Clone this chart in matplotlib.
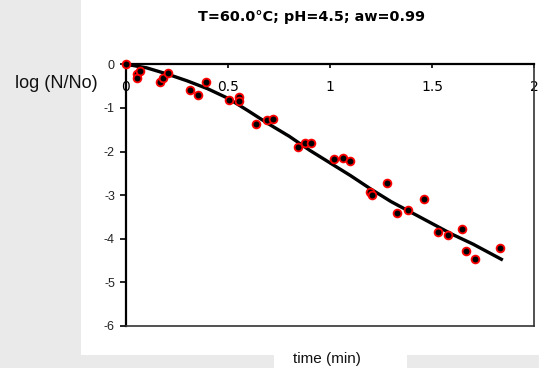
import matplotlib
matplotlib.use('Agg')
from matplotlib import pyplot as plt
from matplotlib.patches import Rectangle

plt.rcParams['axes.unicode_minus'] = False

# observed survivors
time_obs = [0, 0.052, 0.052, 0.071, 0.168, 0.181, 0.206, 0.316, 0.355, 0.392,
            0.503, 0.556, 0.556, 0.636, 0.692, 0.723, 0.841, 0.876, 0.909,
            1.022, 1.062, 1.096, 1.198, 1.208, 1.277, 1.329, 1.382, 1.461,
            1.528, 1.580, 1.648, 1.667, 1.713, 1.835]
logN_obs = [0, -0.23, -0.32, -0.15, -0.41, -0.32, -0.21, -0.60, -0.70, -0.41,
            -0.81, -0.75, -0.85, -1.38, -1.28, -1.25, -1.90, -1.81, -1.81,
            -2.18, -2.14, -2.22, -2.93, -2.99, -2.71, -3.42, -3.33, -3.08,
            -3.85, -3.92, -3.78, -4.27, -4.47, -4.22]

# fitted curve
time_fit = [0, 0.1, 0.2, 0.3, 0.4, 0.5, 0.6, 0.7, 0.8, 0.9, 1.0, 1.1, 1.2,
            1.3, 1.4, 1.5, 1.6, 1.7, 1.84]
logN_fit = [0, -0.08, -0.22, -0.38, -0.56, -0.78, -1.07, -1.37, -1.65, -1.97,
            -2.26, -2.55, -2.86, -3.15, -3.40, -3.65, -3.90, -4.12, -4.47]

x_ticks = [0, 0.5, 1, 1.5, 2]
x_labels = ['0', '0.5', '1', '1.5', '2']
y_ticks = [0, -1, -2, -3, -4, -5, -6]
y_labels = ['0', '-1', '-2', '-3', '-4', '-5', '-6']

W, H = 539, 368
fig = plt.figure(figsize=(W / 100, H / 100), dpi=100)
fig.patch.set_facecolor('white')

grey = '#eaeaea'
fig.patches.append(Rectangle((0, 0), 81.3 / W, 1, transform=fig.transFigure,
                             facecolor=grey, edgecolor='none', zorder=0))
fig.patches.append(Rectangle((0, 0), 274 / W, 13.3 / H, transform=fig.transFigure,
                             facecolor=grey, edgecolor='none', zorder=0))
fig.patches.append(Rectangle((407 / W, 0), 1 - 407 / W, 13.3 / H, transform=fig.transFigure,
                             facecolor=grey, edgecolor='none', zorder=0))

ax = fig.add_axes([126 / W, 42 / H, 408 / W, 261.7 / H])
ax.set_facecolor('white')

ax.plot(time_fit, logN_fit, color='black', linewidth=2.4, zorder=3)
ax.plot(time_obs, logN_obs, linestyle='none', marker='o', markersize=5.6,
        markerfacecolor='black', markeredgecolor='red', markeredgewidth=1.3,
        clip_on=False, zorder=4)

ax.set_xlim(0, 2)
ax.set_ylim(-6, 0)

ax.set_xticks(x_ticks)
ax.set_xticklabels(x_labels)
ax.set_yticks(y_ticks)
ax.set_yticklabels(y_labels)

for lab in ax.get_xticklabels() + ax.get_yticklabels():
    lab.set_fontfamily('Liberation Sans')
    lab.set_fontsize(9)
    lab.set_color('#222222')

ax.tick_params(axis='x', top=True, bottom=False, labeltop=True, labelbottom=False,
               direction='in', length=3, width=1.2, pad=-21.5)
ax.tick_params(axis='y', direction='out', length=4.5, width=1.2, pad=3.5)

ax.spines['top'].set_linewidth(1.6)
ax.spines['left'].set_linewidth(1.6)
ax.spines['bottom'].set_linewidth(1.2)
ax.spines['right'].set_linewidth(1.2)
ax.spines['bottom'].set_color('#333333')
ax.spines['right'].set_color('#333333')

fig.text(312 / W, 1 - 16.7 / H, 'T=60.0°C; pH=4.5; aw=0.99', ha='center', va='center',
         fontsize=10.4, fontweight='bold', family='DejaVu Sans')
fig.text(14.7 / W, 1 - 83.7 / H, 'log (N/No)', ha='left', va='center',
         fontsize=13, family='Liberation Sans', color='#111111')
fig.text(326.7 / W, 1 - 359 / H, 'time (min)', ha='center', va='center',
         fontsize=11, family='Liberation Sans', color='#111111')

plt.savefig('out.png', dpi=100)
